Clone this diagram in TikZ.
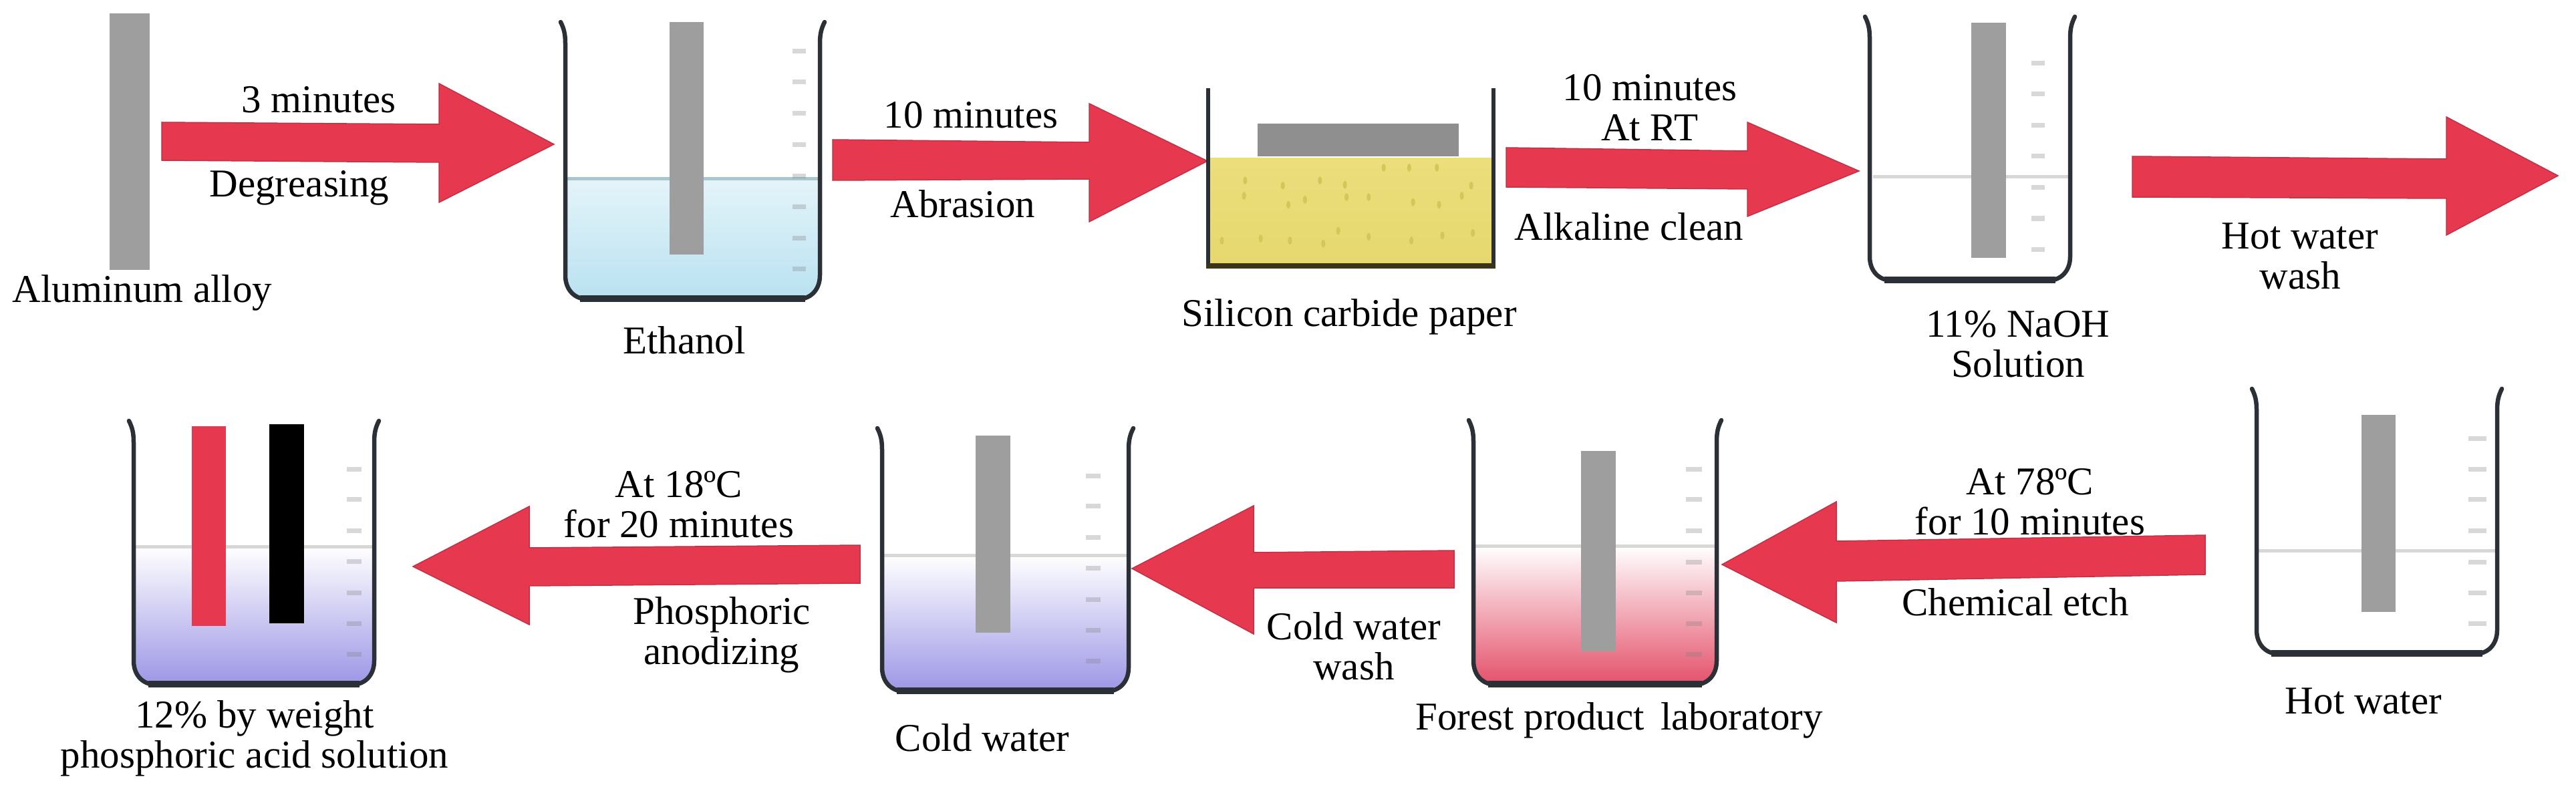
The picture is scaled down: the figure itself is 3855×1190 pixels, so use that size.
\documentclass[tikz,border=0pt]{standalone}
\usepackage{fontspec}
\setmainfont{Liberation Serif}
\definecolor{redar}{HTML}{E63950}
\definecolor{bargray}{HTML}{9E9E9E}
\definecolor{plategray}{HTML}{8F8F8F}
\definecolor{glass}{HTML}{2B3036}
\definecolor{levelc}{HTML}{D9D6D6}
\definecolor{tickc}{HTML}{808080}
\definecolor{ethtop}{HTML}{E4F4F9}
\definecolor{ethbot}{HTML}{B9E1F1}
\definecolor{ethline}{HTML}{A9C5CE}
\definecolor{pinkbot}{HTML}{E4506A}
\definecolor{purpbot}{HTML}{9C96E6}
\definecolor{yeltop}{HTML}{EBDE7C}
\definecolor{yelbot}{HTML}{E6D86E}
\definecolor{speck}{HTML}{D6C65A}
\definecolor{traybot}{HTML}{3A3518}
\tikzset{
  blockarrow/.style={fill=redar,draw=redar!85!black,line width=1.5pt,line join=miter},
  lab/.style={inner sep=0pt,align=center,text=black,font=\fontsize{59}{60}\selectfont},
  barstrip/.style={fill=bargray},
  wall/.style={draw=glass,line width=6.5pt,line join=round,line cap=round,fill=none},
  levelline/.style={draw=levelc,line width=5pt},
  tickmark/.style={draw=tickc,draw opacity=0.3,line width=7pt}
}
% L R T B : glass outline
\newcommand\beakerwall[4]{%
  \draw[wall] (#1-7,#3) .. controls (#1-2,#3+10) and (#1,#3+18) .. (#1,#3+32)
     -- (#1,#4-36) .. controls (#1,#4-14) and (#1+14,#4) .. (#1+34,#4)
     -- (#2-34,#4) .. controls (#2-14,#4) and (#2,#4-14) .. (#2,#4-36)
     -- (#2,#3+32) .. controls (#2,#3+18) and (#2+2,#3+10) .. (#2+7,#3);
  \draw[glass,line width=10pt] (#1+22,#4-1) -- (#2-22,#4-1);
}
% L R level B topcolor bottomcolor
\newcommand\liquid[6]{%
  \shade[top color=#5,bottom color=#6] (#1,#3) [rounded corners=32pt] -- (#1,#4) -- (#2,#4) [sharp corners] -- (#2,#3) -- cycle;
}
% x0 x1 list of y
\newcommand\scaleticks[3]{%
  \foreach \yy in {#3} {\draw[tickmark] (#1,\yy) -- (#2,\yy);}
}
\begin{document}
\begin{tikzpicture}[x=1pt,y=-1pt]
\useasboundingbox (0,0) rectangle (3855,1190);
\fill[white] (0,0) rectangle (3855,1190);

% Aluminum strip
\fill[barstrip] (164,20) rectangle (224,404);
\node[lab] (alloy) at (213,438) {Aluminum alloy};

% Arrow 1
\draw[blockarrow] (242,183) -- (657,186) -- (657,125) -- (829,216) -- (657,303) -- (657,243) -- (242,240) -- cycle;
\node[lab] (t1a) at (477,149) {3 minutes};
\node[lab] (t1b) at (448,281) {Degreasing};

% Ethanol beaker
\liquid{846}{1227}{268}{448}{ethtop}{ethbot}
\draw[draw=ethline,line width=5pt] (846,268) -- (1227,268);
\scaleticks{1186}{1206}{77,123,170,217,264,310,356,402}
\fill[barstrip] (1002,33) rectangle (1053,381);
\beakerwall{846}{1227}{33}{448}
\node[lab] (eth) at (1024,509) {Ethanol};

% Arrow 2
\draw[blockarrow] (1246,209) -- (1630,213) -- (1630,155) -- (1807,241) -- (1630,332) -- (1630,268) -- (1246,270) -- cycle;
\node[lab] (t2a) at (1453,172) {10 minutes};
\node[lab] (t2b) at (1441,305) {Abrasion};

% Silicon carbide tray
\shade[top color=yeltop,bottom color=yelbot] (1808,237) rectangle (2235,395);
\foreach \px/\py in {197/705,265/725,332/705,377/722,195/765,305/780,275/800,380/770,420/770,500/790,547/800,588/765,605/725,447/655,493/655,543/655,155/940,225/932,278/940,338/952,365/902,420/925,497/940,553/920,608/910}
  {\fill[speck] ({1700+\px/1.206},{\py/2.61}) ellipse (3 and 6);}
\fill[plategray] (1882,185) rectangle (2183,234);
\draw[glass,line width=6pt] (1808,132) -- (1808,398);
\draw[glass,line width=6pt] (2235,132) -- (2235,398);
\draw[traybot,line width=8pt] (1805,398) -- (2238,398);
\node[lab] (sic) at (2019,474) {Silicon carbide paper};

% Arrow 3
\draw[blockarrow] (2254,221) -- (2615,226) -- (2615,183) -- (2782,256) -- (2615,324) -- (2615,283) -- (2254,280) -- cycle;
\node[lab] (t3a) at (2469,161) {10 minutes\\At RT};
\node[lab] (t3b) at (2438,339) {Alkaline clean};

% NaOH beaker
\draw[levelline] (2803,265) -- (3098,265);
\scaleticks{3040}{3060}{95,141,188,234,281,327,373}
\fill[barstrip] (2950,34) rectangle (3002,386);
\beakerwall{2798}{3098}{25}{420}
\node[lab] (naoh) at (3020,515) {11\% NaOH\\Solution};

% Arrow 4
\draw[blockarrow] (3191,234) -- (3661,238) -- (3661,175) -- (3828,263) -- (3661,352) -- (3661,297) -- (3191,295) -- cycle;
\node[lab] (t4) at (3442,383) {Hot water\\wash};

% Hot water beaker
\draw[levelline] (3377,824) -- (3737,824);
\scaleticks{3694}{3721}{656,702,747,794,841,887,933}
\fill[barstrip] (3534,621) rectangle (3585,916);
\beakerwall{3377}{3737}{582}{979}
\node[lab] (hot) at (3537,1049) {Hot water};

% Arrow 5
\draw[blockarrow] (3300,801) -- (2748,810) -- (2748,751) -- (2577,845) -- (2748,932) -- (2748,870) -- (3300,860) -- cycle;
\node[lab] (t5a) at (3038,751) {At 78ºC\\for 10 minutes};
\node[lab] (t5b) at (3016,901) {Chemical etch};

% Forest product laboratory beaker
\liquid{2205}{2569}{817}{1025}{white}{pinkbot}
\draw[levelline] (2205,817) -- (2569,817);
\scaleticks{2523}{2547}{702,747,794,841,887,933,979}
\fill[barstrip] (2366,675) rectangle (2418,975);
\beakerwall{2205}{2569}{629}{1025}
\node[lab] (fpl) at (2423,1078) {Forest product\, laboratory};

% Arrow 6
\draw[blockarrow] (2176,824) -- (1876,827) -- (1876,757) -- (1694,851) -- (1876,949) -- (1876,880) -- (2176,880) -- cycle;
\node[lab] (t6) at (2026,967) {Cold water\\wash};

% Cold water beaker
\liquid{1320}{1689}{831}{1035}{white}{purpbot}
\draw[levelline] (1320,831) -- (1689,831);
\scaleticks{1625}{1647}{712,757,804,850,897,943,989}
\fill[barstrip] (1460,652) rectangle (1512,947);
\beakerwall{1320}{1689}{641}{1035}
\node[lab] (cold) at (1470,1104) {Cold water};

% Arrow 7
\draw[blockarrow] (1287,816) -- (792,820) -- (792,758) -- (618,848) -- (792,935) -- (792,877) -- (1287,873) -- cycle;
\node[lab] (t7a) at (1016,755) {At 18ºC\\for 20 minutes};
\node[lab] (t7b) at (1080,950) {Phosphoric\\anodizing};

% Phosphoric acid beaker
\liquid{200}{560}{818}{1025}{white}{purpbot}
\draw[levelline] (200,818) -- (560,818);
\scaleticks{519}{541}{702,747,794,840,887,933,979}
\fill[redar] (287,638) rectangle (338,937);
\fill[black] (403,635) rectangle (455,933);
\beakerwall{200}{560}{630}{1025}
\node[lab] (acid) at (381,1105) {12\% by weight\\phosphoric acid solution};
\end{tikzpicture}
\end{document}
